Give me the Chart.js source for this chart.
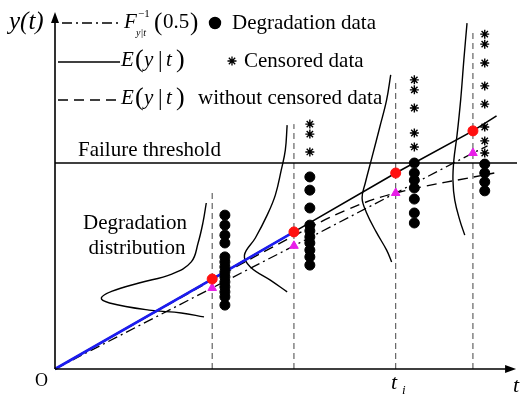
<!DOCTYPE html>
<html>
<head>
<meta charset="utf-8">
<script src="https://cdn.jsdelivr.net/npm/chart.js@4/dist/chart.umd.min.js"></script>
<style>
  html, body { margin: 0; padding: 0; background: #fff; }
  #wrap { width: 523px; height: 397px; position: relative; overflow: hidden; }
  #wrap span.lbl {
    position: absolute; white-space: nowrap; line-height: 1; color: #000;
    font-family: "Liberation Serif", serif;
  }
</style>
</head>
<body>
<div id="wrap"><canvas id="degChart"></canvas></div>
<script>
// Inspection times and top of their dashed guides
const timeMarks = [34.6, 52.6, 75.0, 92.0];
const timeMarkTops = [49.6, 68.6, 80.4, 95.0];

// E(y|t)
const meanX = [0, 34.6, 52.6, 75.0, 92.0, 97.2];
const meanY = [0, 25.2, 38.4, 54.9, 66.7, 70.9];

// F^-1(0.5) median
const medianX = [0, 34.6, 52.6, 75.0, 92.0, 95.2];
const medianY = [0, 22.7, 34.5, 49.3, 60.5, 62.5];

// E(y|t) without censored data
const uncensoredX = [0, 34.6, 52.6, 64.1, 75.0, 96.7];
const uncensoredY = [0, 24.9, 37.3, 44.5, 49.3, 54.9];

const threshold = 57.7;

// Observed (black dots) and censored (stars) data per column
const columnX = [37.4, 56.1, 79.1, 94.6];
const degradationY = [
  [43.1, 40.3, 37.5, 35.3, 31.4, 30.0, 28.6, 27.2, 25.8, 24.4, 23.0, 21.6, 20.2, 17.9],
  [53.8, 50.1, 45.1, 40.3, 38.7, 37.0, 35.3, 33.3, 31.4, 29.1],
  [57.7, 54.9, 52.9, 50.7, 47.6, 43.7, 40.9],
  [57.4, 54.9, 52.4, 49.9]
];
const censoredY = [
  [],
  [68.6, 65.8, 60.8],
  [81.0, 78.2, 73.1, 66.1, 62.2],
  [93.8, 91.0, 85.7, 79.3, 74.2, 67.8, 63.9, 60.5]
];

// Degradation distribution curves (density drawn sideways)
const distX = [
  [33.3, 32.6, 31.5, 30.0, 25.7, 18.5, 12.6, 10.2, 12.0, 20.7, 27.8, 32.8],
  [51.1, 50.7, 49.8, 48.5, 46.7, 44.1, 41.7, 43.0, 47.4, 51.1],
  [73.9, 73.0, 71.5, 69.8, 68.3, 67.6, 68.5, 70.7, 73.0, 74.1],
  [90.7, 90.0, 89.3, 88.5, 87.8, 87.6, 88.0, 89.1, 90.2]
];
const distY = [
  [46.5, 41.2, 35.3, 30.0, 26.6, 24.1, 21.8, 19.9, 18.5, 16.5, 15.7, 14.6],
  [68.3, 61.3, 55.7, 48.7, 43.1, 36.7, 31.9, 28.6, 24.9, 21.6],
  [82.4, 75.4, 67.8, 59.4, 52.1, 47.9, 44.0, 38.4, 33.3, 30.0],
  [96.9, 86.6, 75.4, 65.5, 58.5, 52.9, 47.3, 41.7, 37.5]
];

function pts(xs, ys) {
  return xs.map((x, i) => ({ x, y: ys[i] }));
}

function lineSet(data, opts) {
  return Object.assign({
    data,
    showLine: true,
    pointRadius: 0,
    borderColor: '#000',
    borderWidth: 1.4,
    fill: false,
    clip: false
  }, opts);
}

const datasets = [];

// markers on top
datasets.push({
  data: pts(timeMarks, meanY.slice(1, 5)),
  pointStyle: 'circle', pointRadius: 5, backgroundColor: '#ff1010', borderColor: '#ff1010', order: 0
});
datasets.push({
  data: pts(timeMarks, medianY.slice(1, 5)),
  pointStyle: 'triangle', pointRadius: 5, backgroundColor: '#e81ee8', borderColor: '#e81ee8', order: 0
});
columnX.forEach((cx, i) => {
  datasets.push({
    data: degradationY[i].map(v => ({ x: cx, y: v })),
    pointStyle: 'circle', pointRadius: 5, backgroundColor: '#000', borderColor: '#000', order: 1
  });
  if (censoredY[i].length) {
    datasets.push({
      data: censoredY[i].map(v => ({ x: cx, y: v })),
      pointStyle: 'star', pointRadius: 4.5, borderWidth: 1.4, borderColor: '#000', order: 1
    });
  }
});

// lines
datasets.push(lineSet(pts(meanX.slice(0, 3), meanY.slice(0, 3)), { borderColor: '#1c1cf0', borderWidth: 2.6, order: 2 }));
datasets.push(lineSet(pts(meanX, meanY), { borderWidth: 1.6, order: 3 }));
datasets.push(lineSet(pts(medianX, medianY), { borderWidth: 1.3, borderDash: [10, 4, 2, 4], order: 3 }));
datasets.push(lineSet(pts(uncensoredX, uncensoredY), { borderWidth: 1.4, borderDash: [10, 6], tension: 0.4, order: 3 }));
datasets.push(lineSet([{ x: 0, y: threshold }, { x: 101.7, y: threshold }], { borderWidth: 1.4, order: 4 }));
timeMarks.forEach((t, i) => {
  datasets.push(lineSet([{ x: t, y: 0 }, { x: t, y: timeMarkTops[i] }], { borderColor: '#444', borderWidth: 1, borderDash: [6, 4], order: 5 }));
});
distX.forEach((xs, i) => {
  datasets.push(lineSet(pts(xs, distY[i]), { borderWidth: 1.4, tension: 0.4, order: 4 }));
});

// axes, arrows and legend samples
const overlay = {
  id: 'overlay',
  afterDatasetsDraw(chart) {
    const { ctx, scales: { x, y } } = chart;
    const x0 = x.getPixelForValue(0);
    const y0 = y.getPixelForValue(0);
    const yTop = y.getPixelForValue(100);
    const xEnd = x.getPixelForValue(101.5);
    ctx.save();
    ctx.strokeStyle = '#000';
    ctx.fillStyle = '#000';
    ctx.lineWidth = 1.6;
    ctx.setLineDash([]);

    ctx.beginPath();
    ctx.moveTo(x0, y0); ctx.lineTo(x0, yTop + 8);
    ctx.moveTo(x0, y0); ctx.lineTo(xEnd - 8, y0);
    ctx.stroke();
    ctx.beginPath();
    ctx.moveTo(x0, yTop); ctx.lineTo(x0 - 4, yTop + 11); ctx.lineTo(x0 + 4, yTop + 11); ctx.closePath();
    ctx.moveTo(xEnd, y0); ctx.lineTo(xEnd - 11, y0 - 4); ctx.lineTo(xEnd - 11, y0 + 4); ctx.closePath();
    ctx.fill();

    ctx.lineWidth = 1.4;
    ctx.beginPath();
    ctx.setLineDash([10, 4, 2, 4]);
    ctx.moveTo(62, 23); ctx.lineTo(118, 23); ctx.stroke();
    ctx.beginPath();
    ctx.setLineDash([]);
    ctx.moveTo(58, 62); ctx.lineTo(120, 62); ctx.stroke();
    ctx.beginPath();
    ctx.setLineDash([10, 6]);
    ctx.moveTo(58, 100); ctx.lineTo(120, 100); ctx.stroke();
    ctx.setLineDash([]);

    Chart.helpers.drawPoint(ctx, { pointStyle: 'circle', radius: 5.5, borderWidth: 1 }, 215, 23);
    ctx.fill();
    ctx.lineWidth = 1.3;
    Chart.helpers.drawPoint(ctx, { pointStyle: 'star', radius: 4.5, borderWidth: 1.3 }, 232, 61);
    ctx.restore();
  }
};

new Chart(document.getElementById('degChart'), {
  type: 'scatter',
  data: { datasets },
  options: {
    responsive: true,
    maintainAspectRatio: false,
    animation: false,
    layout: { padding: { left: 55, right: 0, top: 12, bottom: 28 } },
    plugins: { legend: { display: false }, tooltip: { enabled: false } },
    scales: {
      x: { type: 'linear', min: 0, max: 101.7, display: false },
      y: { type: 'linear', min: 0, max: 100, display: false }
    }
  },
  plugins: [overlay]
});

// Text labels as HTML (left x, baseline y, size, italic, align)
const wrap = document.getElementById('wrap');
function label(text, x, base, size, italic, align) {
  const el = document.createElement('span');
  el.className = 'lbl';
  el.textContent = text;
  el.style.fontSize = size + 'px';
  el.style.fontStyle = italic ? 'italic' : 'normal';
  el.style.top = (base - 0.8375 * size) + 'px';
  el.style.left = x + 'px';
  if (align === 'center') el.style.transform = 'translateX(-50%)';
  wrap.appendChild(el);
}

function labelE(x, base) {
  label('E', x, base, 21, true);
  label('(', x + 14, base + 1, 26, false);
  label('y', x + 23, base, 21, true);
  label('|', x + 37, base, 23, false);
  label('t', x + 45, base, 21, true);
  label(')', x + 55, base + 1, 26, false);
}

label('y(t)', 9, 29, 25, true);
label('O', 35, 386, 18, false);
label('t', 391, 389, 22, true);
label('i', 402, 394, 13, true);
label('t', 513, 392, 22, true);

label('Failure threshold', 78, 157, 21, false);
label('Degradation', 135, 230, 21, false, 'center');
label('distribution', 137, 255, 21, false, 'center');

label('F', 124, 29, 21, true);
label('\u22121', 138, 17, 11, false);
label('y|t', 136, 36, 10, true);
label('(', 154, 30, 25, false);
label('0.5', 163, 29, 21, false);
label(')', 190, 30, 25, false);
labelE(121, 67);
labelE(121, 105);
label('Degradation data', 232, 30, 21, false);
label('Censored data', 244, 68, 21, false);
label('without censored data', 198, 105, 21, false);
</script>
</body>
</html>
